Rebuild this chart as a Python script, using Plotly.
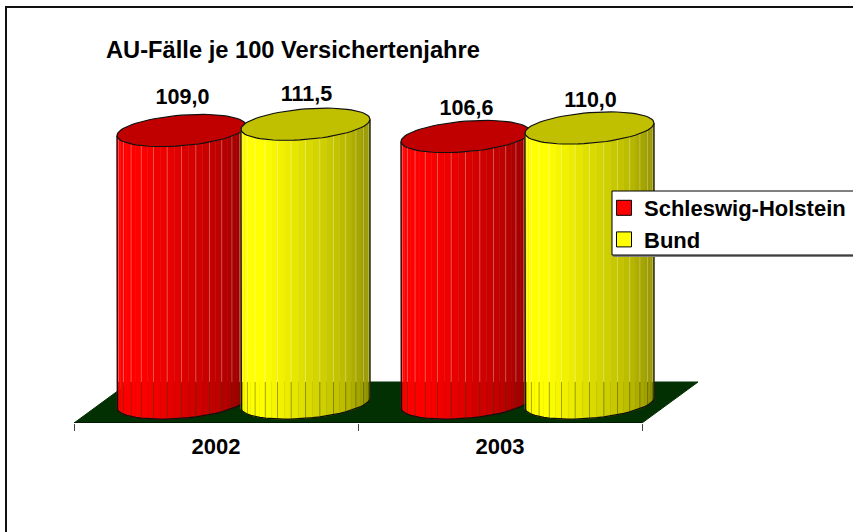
import numpy as np
import plotly.graph_objects as go

# ---- data ----
categories = ["2002", "2003"]
series_names = ["Schleswig-Holstein", "Bund"]
schleswig_holstein = [109.0, 106.6]
bund = [111.5, 110.0]

# ---- styles / geometry (category units on x, value units on y) ----
W, H = 853, 532
X0, X1 = 74, 642          # pixels of the category axis ends
Y_AXIS, Y_TOP = 423, 7    # plot area pixels
PX_PER_VALUE = 2.5
PX_PER_CAT = (X1 - X0) / len(categories)
Y_MIN = -(Y_AXIS - 403) / PX_PER_VALUE
Y_MAX = Y_MIN + (Y_AXIS - Y_TOP) / PX_PER_VALUE

HALF_W = 64.5 / PX_PER_CAT
DEPTH_SHIFT = 27.5 / PX_PER_CAT
SERIES_OFFSET = 62 / PX_PER_CAT
TILT = 5 / PX_PER_VALUE
MINOR = 15.3 / PX_PER_VALUE
FLOOR_DEPTH_X = 56 / PX_PER_CAT
FLOOR_BACK = (423 - 382) / PX_PER_VALUE + Y_MIN
N_STRIPS = 28
SIDE_RGB = [(255, 0, 0), (255, 255, 0)]
TOP_RGB = ["#C00000", "#C0C000"]
BRIGHT_F = [0, 0.18, 0.5, 0.8, 1.0]
BRIGHT_V = [1.0, 1.0, 0.87, 0.74, 0.58]
LABEL_LIFT_PX = [[32, 27], [29, 26.5]]
FONT = "Liberation Sans, Arial, sans-serif"

fig = go.Figure()
skip = dict(hoverinfo="skip", showlegend=False, cliponaxis=False)

# floor
n = len(categories)
fig.add_trace(go.Scatter(
    x=[0, n, n + FLOOR_DEPTH_X, FLOOR_DEPTH_X, 0],
    y=[Y_MIN, Y_MIN, FLOOR_BACK, FLOOR_BACK, Y_MIN],
    mode="lines", fill="toself", fillcolor="#023002",
    line=dict(color="#023002", width=1), **skip))
# category axis line
fig.add_trace(go.Scatter(x=[0, n], y=[Y_MIN, Y_MIN], mode="lines",
                         line=dict(color="#000000", width=1), **skip))


def cylinder(xc, value, s):
    th = np.linspace(np.pi, 2 * np.pi, N_STRIPS + 1)
    xs = xc + HALF_W * np.cos(th)
    front_t = value + TILT * np.cos(th) + MINOR * np.sin(th)
    front_b = TILT * np.cos(th) + MINOR * np.sin(th)
    r, g, b = SIDE_RGB[s]
    for i in range(N_STRIPS):
        f = (0.5 * (xs[i] + xs[i + 1]) - (xc - HALF_W)) / (2 * HALF_W)
        k = float(np.interp(f, BRIGHT_F, BRIGHT_V))
        col = f"rgb({int(r*k)},{int(g*k)},{int(b*k)})"
        fig.add_trace(go.Scatter(
            x=[xs[i], xs[i + 1], xs[i + 1], xs[i], xs[i]],
            y=[front_t[i], front_t[i + 1], front_b[i + 1], front_b[i], front_t[i]],
            mode="lines", fill="toself", fillcolor=col,
            line=dict(color=col, width=0.5), **skip))
    # strip separators: light above the floor's back edge, dark in front of it
    ux, uy, lx, ly = [], [], [], []
    for i in range(2, N_STRIPS - 1, 2):
        ux += [xs[i], xs[i], None]
        uy += [front_t[i], FLOOR_BACK, None]
        lx += [xs[i], xs[i], None]
        ly += [FLOOR_BACK, front_b[i], None]
    fig.add_trace(go.Scatter(x=ux, y=uy, mode="lines",
                             line=dict(color="rgba(255,255,255,0.28)", width=1), **skip))
    fig.add_trace(go.Scatter(x=lx, y=ly, mode="lines",
                             line=dict(color="rgba(60,60,0,0.4)", width=1), **skip))
    # outline of side and bottom
    fig.add_trace(go.Scatter(
        x=np.concatenate([[xs[0]], xs, [xs[-1]]]),
        y=np.concatenate([[front_t[0]], front_b, [front_t[-1]]]),
        mode="lines", line=dict(color="#101010", width=1.2), **skip))
    # top
    tt = np.linspace(0, 2 * np.pi, 73)
    fig.add_trace(go.Scatter(
        x=xc + HALF_W * np.cos(tt),
        y=value + TILT * np.cos(tt) + MINOR * np.sin(tt),
        mode="lines", fill="toself", fillcolor=TOP_RGB[s],
        line=dict(color="#101010", width=1.2), **skip))


label_x, label_y, label_t = [], [], []
for c in range(n):
    for s, vals in enumerate([schleswig_holstein, bund]):
        xc = c + 0.5 + DEPTH_SHIFT + (2 * s - 1) * SERIES_OFFSET
        cylinder(xc, vals[c], s)
        label_x.append(xc + 1 / PX_PER_CAT)
        label_y.append(vals[c] + LABEL_LIFT_PX[s][c] / PX_PER_VALUE)
        label_t.append(f"{vals[c]:.1f}".replace(".", ","))

fig.add_trace(go.Scatter(
    x=label_x, y=label_y, text=label_t, mode="text", textposition="middle center",
    textfont=dict(family=FONT, size=21.5, color="#000000", weight="bold"), **skip))

# legend entries
for s, name in enumerate(series_names):
    fig.add_trace(go.Scatter(
        x=[None], y=[None], mode="markers", name=name,
        marker=dict(symbol="square", size=15, color=f"rgb{SIDE_RGB[s]}",
                    line=dict(color="#000000", width=1))))

fig.update_layout(
    width=W, height=H, autosize=False,
    margin=dict(l=0, r=0, t=0, b=0, autoexpand=False),
    paper_bgcolor="white", plot_bgcolor="rgba(0,0,0,0)",
    font=dict(family=FONT, size=20, color="#000000"),
    title=dict(text="<b>AU-Fälle je 100 Versichertenjahre</b>",
               x=106 / W, xanchor="left", xref="paper",
               y=1 - 50 / H, yanchor="middle", yref="paper",
               font=dict(family=FONT, size=23.7, color="#000000")),
    xaxis=dict(domain=[0, 1], range=[-X0 / PX_PER_CAT, (W - X0) / PX_PER_CAT],
               showgrid=False, zeroline=False, showline=False,
               tickmode="array", tickvals=[i + 0.5 for i in range(n)],
               ticktext=[f"<b>{c}</b>" for c in categories],
               ticks="", ticklabelstandoff=8,
               tickfont=dict(family=FONT, size=22),
               minor=dict(tickmode="array", tickvals=list(range(n + 1)), ticks="outside",
                          ticklen=7, tickcolor="#444444", tickwidth=1, showgrid=False)),
    yaxis=dict(domain=[1 - Y_AXIS / H, 1 - Y_TOP / H], range=[Y_MIN, Y_MAX],
               visible=False, fixedrange=True),
    legend=dict(x=612 / W, xanchor="left", xref="paper",
                y=1 - 187 / H, yanchor="top", yref="paper",
                bgcolor="rgba(0,0,0,0)", borderwidth=0, indentation=-8,
                font=dict(family=FONT, size=22, color="#000000", weight="bold"),
                itemclick=False, itemdoubleclick=False),
    shapes=[
        dict(type="rect", xref="paper", yref="paper", x0=6 / W, x1=1.05,
             y0=-0.05, y1=1 - 7 / H, line=dict(color="#111111", width=2), layer="below"),
        dict(type="rect", xref="paper", yref="paper", x0=613 / W, x1=1.05,
             y0=1 - 257 / H, y1=1 - 200 / H, fillcolor="#808080",
             line=dict(width=0), layer="above"),
        dict(type="rect", xref="paper", yref="paper", x0=612 / W, x1=1.05,
             y0=1 - 255 / H, y1=1 - 191 / H, fillcolor="#FFFFFF",
             line=dict(color="#000000", width=1), layer="above"),
    ],
)
fig.write_html("out.html", config={"displayModeBar": False},
               post_script="document.body.style.margin='0';document.body.style.overflow='hidden';")
